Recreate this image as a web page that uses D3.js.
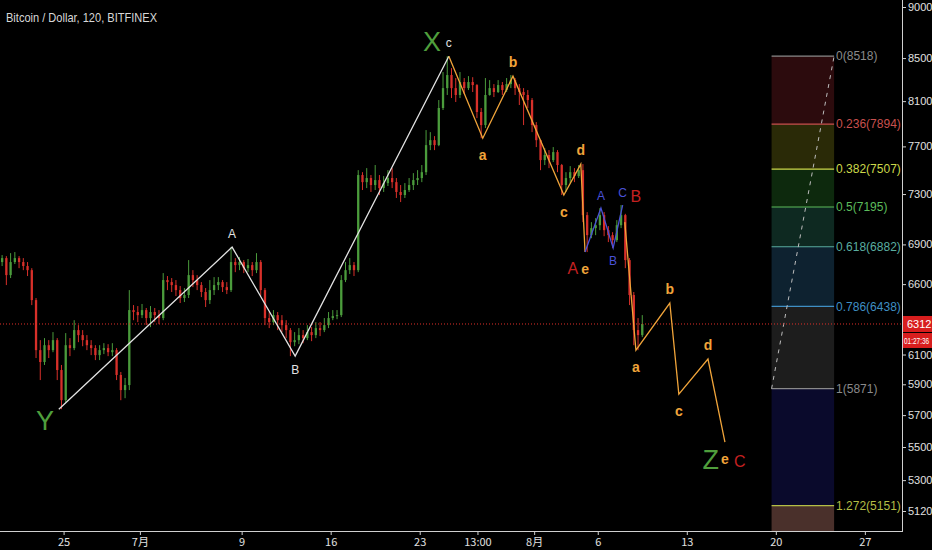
<!DOCTYPE html>
<html>
<head>
<meta charset="utf-8">
<script src="https://cdn.jsdelivr.net/npm/d3@7"></script>
<style>
html, body { margin: 0; padding: 0; background: #000; overflow: hidden; }
svg { display: block; }
text { font-family: "Liberation Sans Narrow", "Liberation Sans", Arial, sans-serif; }
</style>
</head>
<body>
<svg id="chart" width="932" height="550"></svg>
<script>
var SVG_WIDTH = 932, SVG_HEIGHT = 550;
var PLOT_RIGHT = 902, PLOT_BOTTOM = 531;

var title = 'Bitcoin / Dollar, 120, BITFINEX';

// 8 hour candles starting here: open, high, low, close
var first_candle = '2018-06-20 00:00';
var candle_hours = 8;
var candles = [
	[6765,6818,6735,6795],[6795,6810,6593,6667],[6667,6833,6645,6765],[6765,6841,6750,6795],
	[6795,6810,6719,6765],[6765,6795,6704,6735],[6735,6765,6660,6704],[6704,6719,6447,6483],
	[6483,6498,6076,6130],[6130,6199,5928,6049],[6049,6213,6029,6164],[6164,6199,6076,6130],
	[6130,6255,6116,6199],[6199,6213,5928,5995],[5995,6029,5738,5796],[5796,6248,5783,6164],
	[6164,6213,6089,6144],[6144,6339,6130,6269],[6269,6304,6185,6234],[6234,6269,6157,6199],
	[6199,6234,6130,6164],[6164,6199,6096,6144],[6144,6164,6062,6096],[6096,6164,6062,6130],
	[6130,6178,6103,6144],[6144,6171,6089,6116],[6116,6178,6089,6130],[6130,6144,5928,5962],
	[5962,5982,5796,5862],[5862,5942,5809,5895],[5895,6556,5862,6411],[6411,6447,6339,6397],
	[6397,6440,6325,6375],[6375,6455,6354,6411],[6411,6426,6304,6354],[6354,6440,6290,6397],
	[6397,6426,6325,6375],[6375,6411,6311,6354],[6354,6682,6339,6630],[6630,6660,6556,6615],
	[6615,6645,6542,6593],[6593,6630,6513,6556],[6556,6586,6462,6498],[6498,6571,6469,6520],
	[6520,6780,6498,6667],[6667,6704,6578,6630],[6630,6667,6556,6593],[6593,6615,6505,6542],
	[6542,6571,6433,6483],[6483,6630,6455,6556],[6556,6652,6520,6593],[6593,6652,6556,6615],
	[6615,6630,6542,6578],[6578,6615,6527,6556],[6556,6879,6542,6765],[6765,6795,6689,6742],
	[6742,6803,6704,6765],[6765,6780,6682,6719],[6719,6788,6689,6742],[6742,6765,6660,6704],
	[6704,6833,6682,6765],[6765,6780,6513,6556],[6556,6571,6304,6354],[6354,6397,6283,6325],
	[6325,6411,6304,6375],[6375,6397,6269,6339],[6339,6375,6255,6304],[6304,6339,6213,6269],
	[6269,6283,6089,6185],[6185,6255,6157,6199],[6199,6283,6171,6234],[6234,6269,6178,6213],
	[6213,6304,6199,6255],[6255,6290,6192,6234],[6234,6325,6213,6283],[6283,6325,6227,6269],
	[6269,6354,6255,6304],[6304,6397,6283,6354],[6354,6411,6339,6368],[6368,6411,6346,6375],
	[6375,6667,6361,6630],[6630,6765,6615,6704],[6704,6795,6675,6742],[6742,6765,6660,6704],
	[6704,7498,6689,7457],[7457,7481,7333,7398],[7398,7515,7349,7432],[7432,7457,7317,7374],
	[7374,7541,7333,7415],[7415,7457,7292,7349],[7349,7448,7317,7390],[7390,7498,7366,7432],
	[7432,7515,7349,7398],[7398,7432,7268,7317],[7317,7374,7235,7292],[7292,7390,7268,7333],
	[7333,7432,7317,7374],[7374,7473,7333,7415],[7415,7498,7374,7432],[7432,7541,7398,7481],
	[7481,7842,7457,7711],[7711,7824,7668,7754],[7754,7789,7668,7711],[7711,8110,7702,8038],
	[8038,8368,8020,8219],[8219,8518,8156,8340],[8340,8405,8128,8219],[8219,8312,8092,8156],
	[8156,8368,8128,8275],[8275,8312,8165,8219],[8219,8330,8201,8275],[8275,8320,8183,8247],
	[8247,8256,7948,8002],[8002,8038,7771,7886],[7886,8312,7860,8156],[8156,8293,8150,8219],
	[8219,8256,8137,8183],[8183,8293,8174,8247],[8247,8275,8156,8201],[8201,8312,8183,8256],
	[8256,8340,8219,8293],[8293,8312,8156,8219],[8219,8256,8065,8183],[8183,8219,7886,8156],
	[8156,8201,8038,8110],[8110,8128,7824,7886],[7886,7912,7694,7754],[7754,7760,7498,7583],
	[7583,7685,7541,7626],[7626,7668,7515,7583],[7583,7694,7566,7651],[7651,7668,7481,7541],
	[7541,7550,7292,7374],[7374,7481,7317,7432],[7432,7532,7390,7481],[7481,7515,7398,7448],
	[7448,7541,7432,7498],[7498,7549,7074,7130],[7130,7154,6841,6972],[6972,7074,6948,7027],
	[7027,7106,6972,7050],[7050,7186,7011,7130],[7130,7154,6964,7011],[7011,7043,6918,6972],
	[6972,6995,6872,6933],[6933,7090,6918,7050],[7050,7211,7027,7130],[7130,7140,6719,6780],
	[6780,6795,6447,6520],[6520,6542,6164,6269],[6269,6354,6130,6234],[6234,6375,6220,6312]
];

var last_price = 6312;
var countdown = '01:27:36';

var price_ticks = [9000, 8500, 8100, 7700, 7300, 6900, 6600, 6100, 5900, 5700, 5500, 5300, 5120];
var date_ticks = [
	['2018-06-25 00:00', '25'], ['2018-07-01 00:00', '7月'], ['2018-07-09 00:00', '9'],
	['2018-07-16 00:00', '16'], ['2018-07-23 00:00', '23'], ['2018-07-27 13:00', '13:00'],
	['2018-08-01 00:00', '8月'], ['2018-08-06 00:00', '6'], ['2018-08-13 00:00', '13'],
	['2018-08-20 00:00', '20'], ['2018-08-27 00:00', '27']
];

// elliott wave drawings: [date, price]
var wave_white = [['2018-06-24 15:00', 5738], ['2018-07-08 06:00', 6879], ['2018-07-13 05:00', 6089], ['2018-07-25 07:00', 8518]];
var wave_white_names = ['', 'A', 'B', 'c'];
var wave_orange1 = [['2018-07-25 07:00', 8518], ['2018-07-27 23:00', 7771], ['2018-07-30 08:00', 8330], ['2018-08-03 08:00', 7292], ['2018-08-04 16:00', 7549], ['2018-08-05 00:00', 6841]];
var wave_orange1_names = ['', 'a', 'b', 'c', 'd', 'e'];
var wave_blue = [['2018-08-05 00:00', 6841], ['2018-08-06 06:00', 7186], ['2018-08-07 05:00', 6872], ['2018-08-07 23:00', 7211]];
var wave_blue_names = ['', 'A', 'B', 'C'];
var wave_orange2 = [['2018-08-08 03:00', 7074], ['2018-08-09 00:00', 6130], ['2018-08-11 16:00', 6462], ['2018-08-12 09:00', 5836], ['2018-08-14 16:00', 6069], ['2018-08-16 00:00', 5530]];
var wave_orange2_names = ['', 'a', 'b', 'c', 'd', 'e'];

// degree labels: [text, date, price]
var green_labels = [['Y', '2018-06-23 13:00', 5667], ['X', '2018-07-23 23:00', 8654], ['Z', '2018-08-14 21:00', 5425]];
var red_labels = [['A', '2018-08-04 01:00', 6719], ['B', '2018-08-09 00:00', 7284], ['C', '2018-08-17 04:00', 5414]];

// fibonacci retracement
var fib_from = '2018-08-19 16:00';
var fib_to = '2018-08-24 14:00';
var fib_ratios = ['0', '0.236', '0.382', '0.5', '0.618', '0.786', '1', '1.272'];
var fib_prices = [8518, 7894, 7507, 7195, 6882, 6438, 5871, 5151];
var fib_line_colors = ['#8a8a8a', '#c8504e', '#ccd84a', '#5cbc5c', '#5aaea0', '#3f8fc4', '#8a8a8a', '#b4be46'];
var fib_fill_colors = ['#2c0b0d', '#2a2a07', '#0d290d', '#0e2921', '#0e2230', '#1d1d1d', '#0a0a2c', '#4a302b'];

var parse = d3.timeParse('%Y-%m-%d %H:%M');
var svg = d3.select('#chart');

svg.append('rect').attr('width', SVG_WIDTH).attr('height', SVG_HEIGHT).attr('fill', '#000');

var x = d3.scaleTime()
		.domain([parse('2018-06-20 00:00'), parse('2018-08-30 00:00')])
		.range([0, 903]);
var y = d3.scaleLog()
		.domain([5120, 9000])
		.range([511, 7]);

svg.append('clipPath').attr('id', 'plot_clip')
	.append('rect').attr('x', 0).attr('y', 0).attr('width', PLOT_RIGHT).attr('height', PLOT_BOTTOM);

var plot = svg.append('g').attr('clip-path', 'url(#plot_clip)');

// fib box
var fx0 = x(parse(fib_from)), fx1 = x(parse(fib_to));
var fib = plot.append('g').attr('id', 'fib');
fib_prices.forEach(function(p, i) {
	var top = y(p);
	var bottom = i + 1 < fib_prices.length ? y(fib_prices[i + 1]) : PLOT_BOTTOM;
	fib.append('rect')
		.attr('x', fx0).attr('y', top)
		.attr('width', fx1 - fx0).attr('height', bottom - top)
		.attr('fill', fib_fill_colors[i]);
});
fib_prices.forEach(function(p, i) {
	fib.append('line')
		.attr('x1', fx0).attr('x2', fx1)
		.attr('y1', y(p)).attr('y2', y(p))
		.attr('stroke', fib_line_colors[i]).attr('stroke-width', 1.2);
	fib.append('text')
		.attr('x', fx1 + 2).attr('y', y(p))
		.attr('dy', '0.35em')
		.attr('fill', fib_line_colors[i])
		.attr('font-size', 12)
		.text(fib_ratios[i] + '(' + p + ')');
});
fib.append('line')
	.attr('x1', fx0).attr('y1', y(fib_prices[6]))
	.attr('x2', fx1).attr('y2', y(fib_prices[0]))
	.attr('stroke', '#bdbdbd').attr('stroke-width', 1)
	.attr('stroke-dasharray', '4,5');

// candles
var t0 = parse(first_candle).getTime();
var step = candle_hours * 3600 * 1000;
var body_w = 2.3;
var cg = plot.append('g').attr('id', 'candles');
candles.forEach(function(d, i) {
	var cx = x(new Date(t0 + i * step + step / 2));
	var up = d[3] >= d[0];
	var col = up ? '#4b9c3c' : '#d8302a';
	cg.append('line')
		.attr('x1', cx).attr('x2', cx)
		.attr('y1', y(d[1])).attr('y2', y(d[2]))
		.attr('stroke', col).attr('stroke-width', 1);
	var yt = y(Math.max(d[0], d[3])), yb = y(Math.min(d[0], d[3]));
	cg.append('rect')
		.attr('x', cx - body_w / 2).attr('y', yt)
		.attr('width', body_w).attr('height', Math.max(1, yb - yt))
		.attr('fill', col);
});

// last price line
plot.append('line')
	.attr('x1', 0).attr('x2', PLOT_RIGHT)
	.attr('y1', y(last_price)).attr('y2', y(last_price))
	.attr('stroke', '#e0302a').attr('stroke-width', 1)
	.attr('stroke-dasharray', '1,2');

// waves
var line = d3.line()
	.x(function(d) { return x(parse(d[0])); })
	.y(function(d) { return y(d[1]); });

function draw_wave(points, names, color, font_size, bold, up_dy, down_dy)
{
	plot.append('path')
		.datum(points)
		.attr('d', line)
		.attr('fill', 'none')
		.attr('stroke', color)
		.attr('stroke-width', 1.3);
	points.forEach(function(d, i) {
		if(!names[i]) return;
		var prev = points[i - 1];
		var above = d[1] > prev[1];
		plot.append('text')
			.attr('x', x(parse(d[0])))
			.attr('y', y(d[1]) + (above ? up_dy : down_dy))
			.attr('dy', '0.35em')
			.attr('text-anchor', 'middle')
			.attr('fill', color)
			.attr('font-size', font_size)
			.attr('font-weight', bold ? 'bold' : 'normal')
			.text(names[i]);
	});
}

draw_wave(wave_white, wave_white_names, '#e2e2e2', 12, false, -13, 14);
draw_wave(wave_orange1, wave_orange1_names, '#f0a43a', 14, true, -14, 17);
draw_wave(wave_blue, wave_blue_names, '#4a52d8', 12, false, -12, 13);
draw_wave(wave_orange2, wave_orange2_names, '#f0a43a', 14, true, -14, 17);

function draw_labels(labels, color, font_size)
{
	labels.forEach(function(d) {
		plot.append('text')
			.attr('x', x(parse(d[1])))
			.attr('y', y(d[2]))
			.attr('dy', '0.35em')
			.attr('text-anchor', 'middle')
			.attr('fill', color)
			.attr('font-size', font_size)
			.text(d[0]);
	});
}
draw_labels(green_labels, '#4f9e3c', 27);
draw_labels(red_labels, '#c42020', 16);

// axes
var y_axis = d3.axisRight(y)
	.tickValues(price_ticks)
	.tickFormat(d3.format('d'))
	.tickSize(4);
var gy = svg.append('g')
	.attr('transform', 'translate(' + PLOT_RIGHT + ',0)')
	.call(y_axis);
gy.select('.domain').attr('stroke', '#d0d0d0').attr('d', 'M0.5,0V' + PLOT_BOTTOM);
gy.selectAll('line').attr('stroke', '#d0d0d0');
gy.selectAll('text').attr('fill', '#e0e0e0').attr('font-size', 11).attr('x', 6)
	.style('font-family', '"Liberation Sans Narrow", "Liberation Sans", Arial, sans-serif');

var x_axis = d3.axisBottom(x)
	.tickValues(date_ticks.map(function(d) { return parse(d[0]); }))
	.tickFormat(function(d, i) { return date_ticks[i][1]; })
	.tickSize(4);
var gx = svg.append('g')
	.attr('transform', 'translate(0,' + PLOT_BOTTOM + ')')
	.call(x_axis);
gx.select('.domain').attr('stroke', '#d0d0d0').attr('d', 'M0,0.5H' + (PLOT_RIGHT + 1));
gx.selectAll('line').attr('stroke', '#d0d0d0');
gx.selectAll('text').attr('fill', '#e0e0e0').attr('font-size', 11).attr('y', 7)
	.style('font-family', '"Liberation Sans Narrow", "Noto Sans CJK SC", "Liberation Sans", Arial, sans-serif');

// price label and countdown
var ly = y(last_price);
svg.append('rect').attr('x', PLOT_RIGHT + 1).attr('y', ly - 8).attr('width', 29).attr('height', 16).attr('fill', '#d81e1e');
svg.append('text').attr('x', PLOT_RIGHT + 5).attr('y', ly).attr('dy', '0.35em')
	.attr('fill', '#fff').attr('font-size', 11).text(last_price);
svg.append('rect').attr('x', PLOT_RIGHT + 1).attr('y', ly + 9).attr('width', 29).attr('height', 15).attr('fill', '#d81e1e');
svg.append('g')
	.attr('transform', 'translate(' + (PLOT_RIGHT + 2) + ',' + (ly + 16.5) + ') scale(0.72,1)')
	.append('text')
	.attr('dy', '0.35em')
	.attr('fill', '#fff').attr('font-size', 9)
	.text(countdown);

// title, condensed like the original
svg.append('text').attr('x', 6).attr('y', 22)
	.attr('fill', '#d8d8d8').attr('font-size', 13)
	.attr('textLength', 151).attr('lengthAdjust', 'spacingAndGlyphs')
	.text(title);
</script>
</body>
</html>
